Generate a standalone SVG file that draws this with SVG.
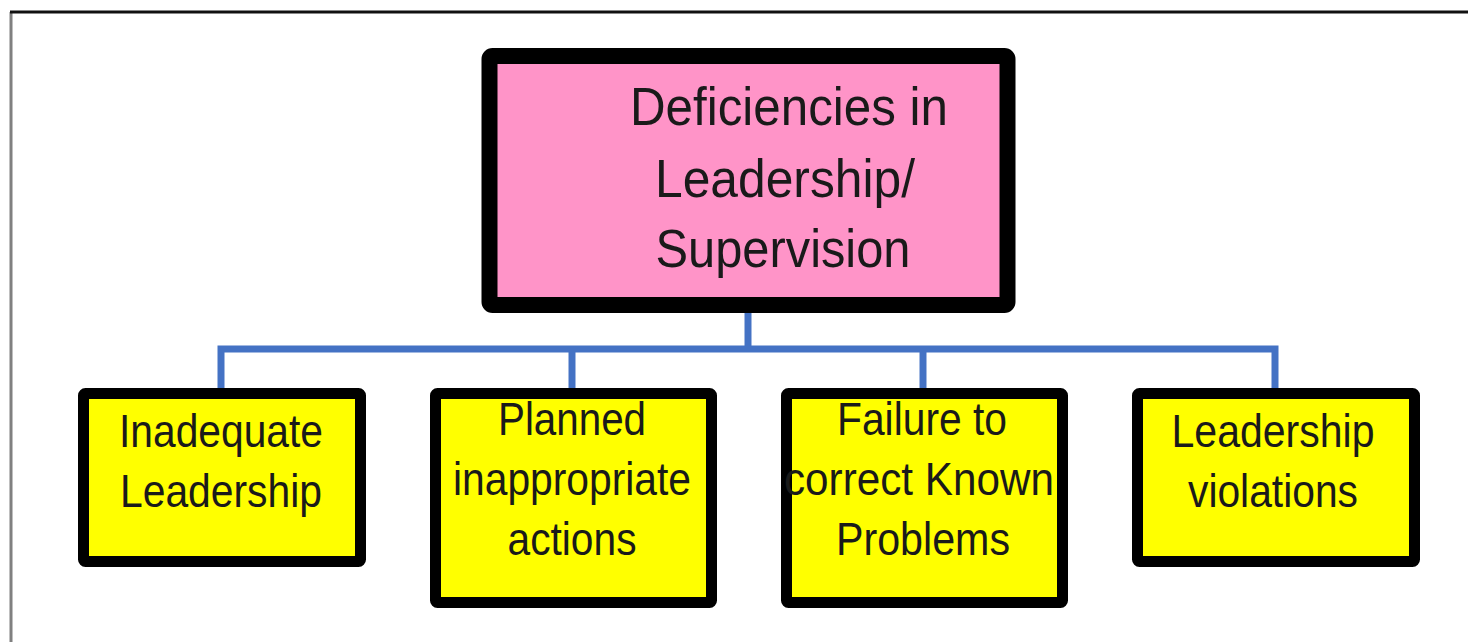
<svg xmlns="http://www.w3.org/2000/svg" width="1468" height="642" viewBox="0 0 1468 642">
<style>
.t{font-family:"Liberation Sans",Arial,sans-serif;fill:#1a1a1a;text-anchor:middle}
.big{font-size:53px}
.sm{font-size:46px}
.leaf{fill:#ffff00;stroke:#000;stroke-width:11}
.conn{stroke:#4472c4;stroke-width:7;fill:none;stroke-linejoin:miter}
</style>
<rect width="1468" height="642" fill="#fff"/>
<g id="frame">
<line x1="11" y1="12" x2="11" y2="642" stroke="#808080" stroke-width="3"/>
<line x1="10" y1="12" x2="1468" y2="12" stroke="#111" stroke-width="3"/>
</g>
<g id="connectors">
<line class="conn" x1="748" y1="306" x2="748" y2="349"/>
<path class="conn" d="M221,392 V349 H1275 V392"/>
<line class="conn" x1="572" y1="349" x2="572" y2="392"/>
<line class="conn" x1="923" y1="349" x2="923" y2="392"/>
</g>
<g id="root">
<rect x="489.5" y="56" width="518" height="249" rx="3" fill="#ff94c8" stroke="#000" stroke-width="16"/>
<text class="t big" x="789" y="125" textLength="318" lengthAdjust="spacingAndGlyphs">Deficiencies in</text>
<text class="t big" x="785" y="197" textLength="260" lengthAdjust="spacingAndGlyphs">Leadership/</text>
<text class="t big" x="783" y="267" textLength="255" lengthAdjust="spacingAndGlyphs">Supervision</text>
</g>
<g id="n1">
<rect class="leaf" x="83.5" y="393.5" width="277" height="168" rx="2"/>
<text class="t sm" x="221" y="447" textLength="204" lengthAdjust="spacingAndGlyphs">Inadequate</text>
<text class="t sm" x="221" y="507" textLength="202" lengthAdjust="spacingAndGlyphs">Leadership</text>
</g>
<g id="n2">
<rect class="leaf" x="435.5" y="393.5" width="276" height="209" rx="2"/>
<text class="t sm" x="572" y="435" textLength="148" lengthAdjust="spacingAndGlyphs">Planned</text>
<text class="t sm" x="572" y="495" textLength="238" lengthAdjust="spacingAndGlyphs">inappropriate</text>
<text class="t sm" x="572" y="555" textLength="129" lengthAdjust="spacingAndGlyphs">actions</text>
</g>
<g id="n3">
<rect class="leaf" x="786.5" y="393.5" width="276" height="209" rx="2"/>
<text class="t sm" x="922" y="435" textLength="170" lengthAdjust="spacingAndGlyphs">Failure to</text>
<text class="t sm" x="919" y="495" textLength="270" lengthAdjust="spacingAndGlyphs">correct Known</text>
<text class="t sm" x="923" y="555" textLength="174" lengthAdjust="spacingAndGlyphs">Problems</text>
</g>
<g id="n4">
<rect class="leaf" x="1137.5" y="393.5" width="277" height="168" rx="2"/>
<text class="t sm" x="1273" y="447" textLength="203" lengthAdjust="spacingAndGlyphs">Leadership</text>
<text class="t sm" x="1273" y="507" textLength="170" lengthAdjust="spacingAndGlyphs">violations</text>
</g>
</svg>
